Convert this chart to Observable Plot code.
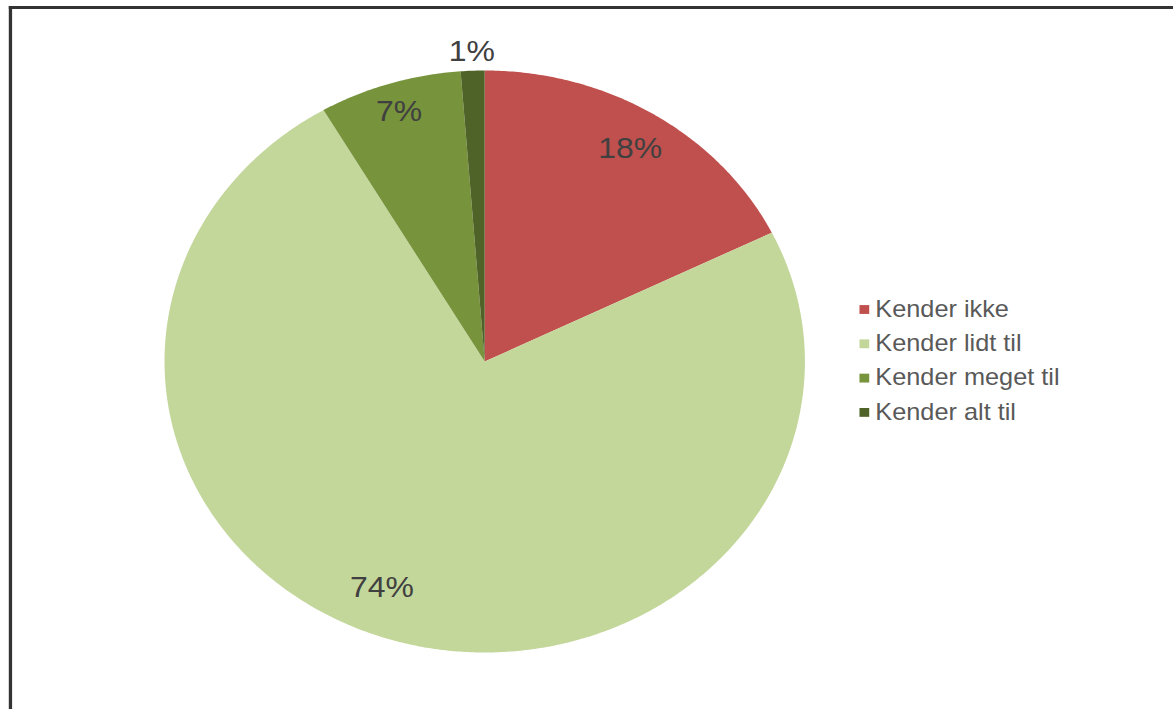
<!DOCTYPE html>
<html><head><meta charset="utf-8">
<script src="https://cdn.jsdelivr.net/npm/d3@7"></script>
<script src="https://cdn.jsdelivr.net/npm/@observablehq/plot@0.6"></script>
<style>
html,body{margin:0;padding:0;background:#fff;overflow:hidden}
#chart svg{display:block}
</style></head><body><div id="chart"></div>
<script>
// Data
const categories = ["Kender ikke", "Kender lidt til", "Kender meget til", "Kender alt til"];
const values = [17.7, 73.9, 7.2, 1.2];
const labels = ["18%", "74%", "7%", "1%"];
const colors = ["#C0504D", "#C4D79B", "#77933C", "#4F6228"];

// Layout (inner, unstretched space; svg is stretched horizontally)
const W = 1066, H = 709;
const cx = 440, cy = 361, R = 291;
const mL = 9, mT = 7;

const arcs = d3.pie().sort(null).value(d => d)(values);
const slices = arcs.map((a) => {
  const pts = [{x: 0, y: 0}];
  const n = Math.max(4, Math.ceil((a.endAngle - a.startAngle) / (Math.PI / 360)));
  for (let k = 0; k <= n; k++) {
    const t = a.startAngle + (a.endAngle - a.startAngle) * k / n;
    pts.push({x: Math.sin(t), y: Math.cos(t)});
  }
  pts.push({x: 0, y: 0});
  return pts;
});
const labelData = arcs.map((a, i) => {
  let m = (a.startAngle + a.endAngle) / 2;
  let r = values[i] < 3 ? 1.065 : (values[i] < 10 ? 0.9 : 0.86);
  if (values[i] > 50) { m += 0.1; r = 0.84; }
  return {x: r * Math.sin(m), y: r * Math.cos(m), text: labels[i]};
});
const legX = (785 - cx) / R, legTX = (795 - cx) / R;
const legendData = categories.map((c, i) => ({
  x: legX, tx: legTX, y: (cy - (309 + i * 34.3)) / R, name: c, color: colors[i]
}));

const chart = Plot.plot({
  width: W, height: H,
  marginLeft: mL, marginTop: mT, marginRight: 0, marginBottom: 0,
  x: {domain: [(mL - cx) / R, (W - cx) / R], axis: null},
  y: {domain: [(cy - H) / R, (cy - mT) / R], axis: null},
  style: {fontFamily: "'Liberation Sans', Arial, sans-serif", background: "#fff"},
  marks: [
    ...slices.map((pts, i) => Plot.line(pts, {x: "x", y: "y", fill: colors[i], stroke: "none"})),
    Plot.text(labelData, {x: "x", y: "y", text: "text", fontSize: 29, fill: "#404040", lineAnchor: "middle", textAnchor: "middle"}),
    Plot.dot(legendData, {x: "x", y: "y", symbol: "square", r: 5, fill: "color", stroke: "none"}),
    Plot.text(legendData, {x: "tx", y: "y", text: "name", fontSize: 23, fill: "#595959", textAnchor: "start", lineAnchor: "middle"}),
    Plot.frame({anchor: "left", stroke: "#333", strokeWidth: 3}),
    Plot.frame({anchor: "top", stroke: "#333", strokeWidth: 3})
  ]
});
chart.setAttribute("preserveAspectRatio", "none");
chart.setAttribute("width", 1173);
chart.setAttribute("height", 709);
chart.style.width = "1173px";
chart.style.height = "709px";
chart.style.maxWidth = "none";
document.getElementById("chart").appendChild(chart);
</script>
</body></html>
